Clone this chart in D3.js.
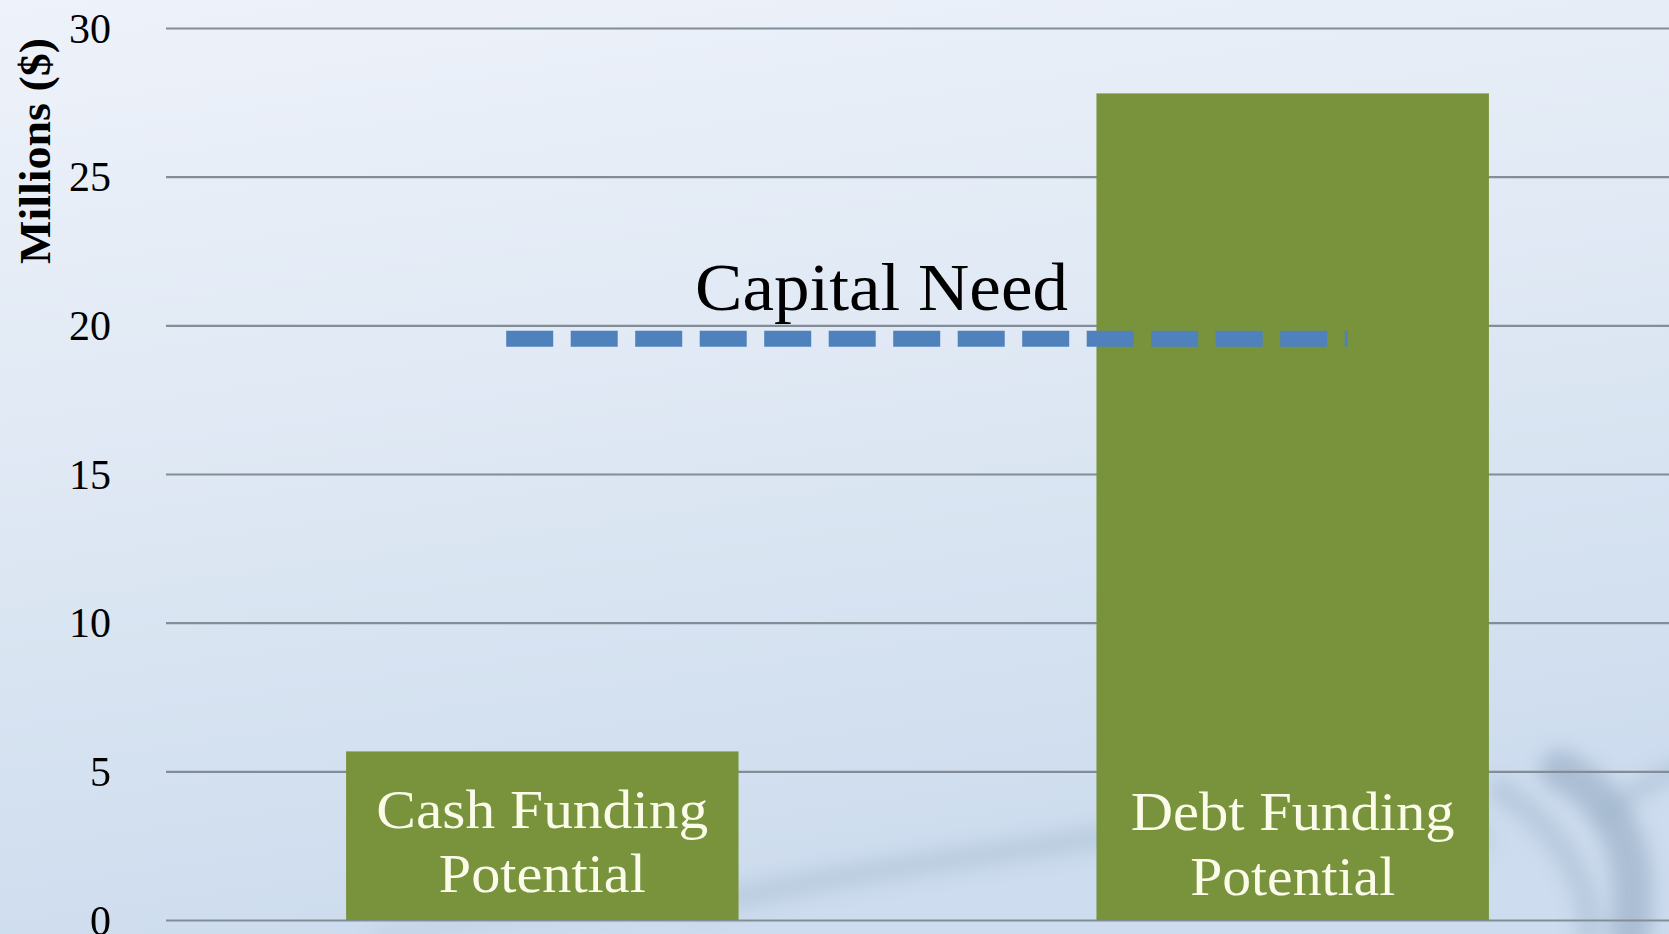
<!DOCTYPE html>
<html>
<head>
<meta charset="utf-8">
<script src="https://cdn.jsdelivr.net/npm/d3@7"></script>
<style>
  html, body { margin: 0; padding: 0; overflow: hidden; }
  svg { display: block; }
</style>
</head>
<body>
<svg id="chart" width="1669" height="934"></svg>
<script>
// Funding sources compared against the capital need (millions of dollars)
const categories = ["Cash Funding Potential", "Debt Funding Potential"];
const labelLines = [["Cash Funding", "Potential"], ["Debt Funding", "Potential"]];
const values = [5.67, 27.8];
const capitalNeed = 19.55;
const capitalNeedLabel = "Capital Need";
const yTicks = [0, 5, 10, 15, 20, 25, 30];
const yTitle = "Millions ($)";

const W = 1669, H = 934;
const svg = d3.select("#chart");
const defs = svg.append("defs");

// soft blue backdrop
const bg = defs.append("linearGradient").attr("id", "bg")
  .attr("x1", 0).attr("y1", 0).attr("x2", 0.25).attr("y2", 1);
bg.append("stop").attr("offset", "0%").attr("stop-color", "#eef2fa");
bg.append("stop").attr("offset", "55%").attr("stop-color", "#dde7f3");
bg.append("stop").attr("offset", "100%").attr("stop-color", "#cddcee");
svg.append("rect").attr("width", W).attr("height", H).attr("fill", "url(#bg)");

// faint water streaks near the lower edge
defs.append("filter").attr("id", "soft").append("feGaussianBlur").attr("stdDeviation", 9);
const streaks = svg.append("g").attr("filter", "url(#soft)").attr("fill", "none");
[
  {d: "M700,905 C900,860 1050,850 1200,820", c: "#a9bfd4", w: 22, o: 0.55},
  {d: "M1180,760 C1300,720 1420,770 1480,840", c: "#b3c6da", w: 26, o: 0.5},
  {d: "M1560,770 C1620,800 1640,860 1630,934", c: "#8fa6c0", w: 40, o: 0.55},
  {d: "M1500,790 C1560,830 1590,880 1590,934", c: "#a5b8cf", w: 24, o: 0.5},
  {d: "M380,934 C500,915 620,905 720,900", c: "#b8cadc", w: 14, o: 0.5},
  {d: "M1700,760 C1650,780 1620,800 1600,820", c: "#9db3cb", w: 18, o: 0.45}
].forEach(s => streaks.append("path").attr("d", s.d).attr("stroke", s.c)
  .attr("stroke-width", s.w).attr("opacity", s.o).attr("stroke-linecap", "round"));

const y = d3.scaleLinear().domain([0, 30]).range([920, 28]);
const x = d3.scaleBand().domain(categories).range([166, W])
  .paddingInner(0.477).paddingOuter(0.24);

// gridlines + tick labels
const axis = d3.axisLeft(y).tickValues(yTicks).tickSize(-(W - 166)).tickPadding(55);
const gAxis = svg.append("g").attr("transform", "translate(166,0)").call(axis);
gAxis.select(".domain").remove();
gAxis.selectAll(".tick line").attr("stroke", "#838d98").attr("stroke-width", 2.2);
gAxis.selectAll(".tick text")
  .attr("fill", "#000")
  .style("font-family", "'Liberation Serif', 'DejaVu Serif', serif")
  .style("font-size", "42px")
  .attr("dy", "0.34em");

// y-axis title
svg.append("text")
  .attr("transform", "translate(50,151) rotate(-90)")
  .attr("text-anchor", "middle")
  .attr("textLength", 226)
  .attr("lengthAdjust", "spacingAndGlyphs")
  .style("font-family", "'Liberation Serif', serif")
  .style("font-weight", "bold")
  .style("font-size", "45px")
  .attr("fill", "#000")
  .text(yTitle);

// bars
svg.append("g").selectAll("rect").data(categories).join("rect")
  .attr("x", d => x(d))
  .attr("width", x.bandwidth())
  .attr("y", (d, i) => y(values[i]))
  .attr("height", (d, i) => y(0) - y(values[i]))
  .attr("fill", "#78933b");

// labels inside bars
const lineW = [[332, 207], [324, 205]];
const baseY = [[828, 892], [830, 895]];
categories.forEach((c, i) => {
  labelLines[i].forEach((t, j) => {
    svg.append("text")
      .attr("x", x(c) + x.bandwidth() / 2)
      .attr("y", baseY[i][j])
      .attr("text-anchor", "middle")
      .attr("textLength", lineW[i][j])
      .attr("lengthAdjust", "spacingAndGlyphs")
      .style("font-family", "'Liberation Serif', serif")
      .style("font-size", "54px")
      .attr("fill", "#fbfbe9")
      .text(t);
  });
});

// capital need dashed line
const lineX0 = x(categories[0]) + x.bandwidth() * 0.408;
const lineX1 = x(categories[1]) + x.bandwidth() * 0.64;
svg.append("line")
  .attr("x1", lineX0).attr("x2", lineX1)
  .attr("y1", y(capitalNeed)).attr("y2", y(capitalNeed))
  .attr("stroke", "#4f81bd")
  .attr("stroke-width", 16)
  .attr("stroke-dasharray", "47,17.5");

svg.append("text")
  .attr("x", 695).attr("y", 310)
  .attr("textLength", 373)
  .attr("lengthAdjust", "spacingAndGlyphs")
  .style("font-family", "'Liberation Serif', serif")
  .style("font-size", "68px")
  .attr("fill", "#000")
  .text(capitalNeedLabel);
</script>
</body>
</html>
